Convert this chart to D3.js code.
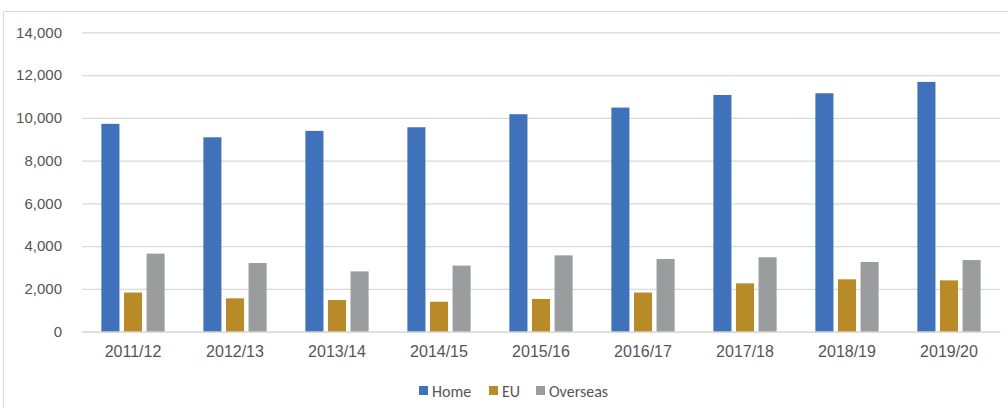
<!DOCTYPE html>
<html><head><meta charset="utf-8">
<script src="https://cdn.jsdelivr.net/npm/d3@7"></script>
<style>body{margin:0;background:#fff;} svg{display:block;font-family:Calibri,Carlito,"Liberation Sans","Open Sans",sans-serif;}</style>
</head><body>
<svg id="chart" width="1008" height="408"></svg>
<script>
const categories = ["2011/12","2012/13","2013/14","2014/15","2015/16","2016/17","2017/18","2018/19","2019/20"];
const seriesNames = ["Home","EU","Overseas"];
const homeValues = [9720, 9090, 9390, 9560, 10170, 10480, 11070, 11150, 11680];
const euValues = [1830, 1560, 1480, 1400, 1530, 1830, 2260, 2450, 2400];
const overseasValues = [3650, 3210, 2820, 3090, 3570, 3400, 3480, 3260, 3350];
const yTicks = [0, 2000, 4000, 6000, 8000, 10000, 12000, 14000];
const colors = ["#3F72BA", "#B88A28", "#9A9C9D"];

(function(){
const seriesValues = [homeValues, euValues, overseasValues];
const svg = d3.select("#chart");

// outer chart border
svg.append("line").attr("x1",3.5).attr("x2",1008).attr("y1",11.5).attr("y2",11.5).attr("stroke","#d9d9d9");
svg.append("line").attr("x1",3.5).attr("x2",3.5).attr("y1",11.5).attr("y2",408).attr("stroke","#d9d9d9");

const pLeft = 82, pRight = 1000, pTop = 32.3, pBottom = 331.7;
const x = d3.scaleBand().domain(categories).range([pLeft, pRight]).paddingInner(0.38).paddingOuter(0.19);
const xs = d3.scaleBand().domain(seriesNames).range([0, x.bandwidth()]).paddingInner(0.2);
const y = d3.scaleLinear().domain([0, 14000]).range([pBottom, pTop]);

// gridlines
const yAxis = d3.axisLeft(y).tickValues(yTicks).tickSize(-(pRight-pLeft)).tickFormat(d3.format(","));
const gy = svg.append("g").attr("transform", `translate(${pLeft},0)`).call(yAxis);
gy.select(".domain").remove();
gy.selectAll(".tick line").attr("stroke","#d9d9d9").attr("stroke-width",1.3);
gy.selectAll(".tick text").attr("x",-20).attr("fill","#555555").attr("font-size","15px");

// bars
const groups = svg.append("g").selectAll("g").data(categories).join("g")
  .attr("transform", d => `translate(${x(d)},0)`);
groups.selectAll("rect").data((d,i) => seriesNames.map((s,j) => ({s, v: seriesValues[j][i], j})))
  .join("rect")
  .attr("x", d => xs(d.s)).attr("width", xs.bandwidth())
  .attr("y", d => y(d.v)).attr("height", d => y(0) - y(d.v))
  .attr("fill", d => colors[d.j]);

// x axis
const xAxis = d3.axisBottom(x).tickSize(0).tickPadding(14);
const gx = svg.append("g").attr("transform", `translate(0,${pBottom})`).call(xAxis);
gx.select(".domain").attr("stroke","#d9d9d9").attr("stroke-width",1.3);
gx.selectAll(".tick text").attr("fill","#555555").attr("font-size","16px");

// legend
const legendItems = [{n:"Home",x:419},{n:"EU",x:489},{n:"Overseas",x:536}];
const lg = svg.append("g").selectAll("g").data(legendItems).join("g")
  .attr("transform", d => `translate(${d.x},386)`);
lg.append("rect").attr("width",9).attr("height",9).attr("fill",(d,i)=>colors[i]);
lg.append("text").attr("x",13).attr("y",10.5).attr("fill","#555555").attr("font-size","16px").text(d=>d.n);
})();
</script>
</body></html>
